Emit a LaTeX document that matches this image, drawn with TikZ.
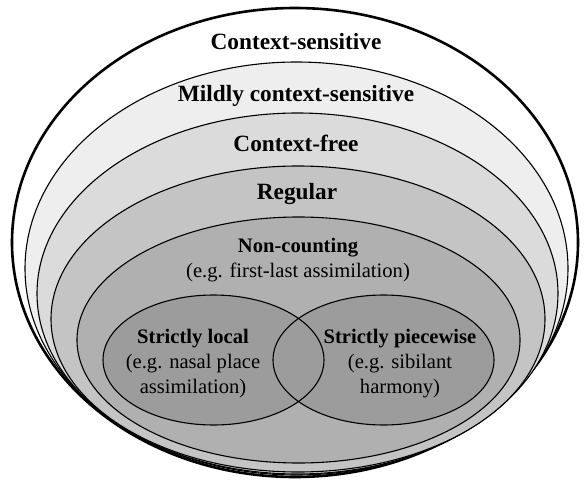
\documentclass[tikz,border=0pt]{standalone}
\usepackage{fontspec}
\setmainfont{Liberation Serif}
\begin{document}
\begin{tikzpicture}[x=1pt,y=-1pt,
  ring/.style={draw=black,line width=1.1pt},
  head/.style={font=\fontsize{23.3}{28}\selectfont\bfseries,anchor=base,inner sep=0pt},
  sub/.style={font=\fontsize{20.6}{25}\selectfont,anchor=base,inner sep=0pt,align=center},
  subb/.style={font=\fontsize{20.6}{25}\selectfont\bfseries,anchor=base,inner sep=0pt}]
\useasboundingbox (0,0) rectangle (587,482);
\definecolor{cMild}{gray}{0.935}
\definecolor{cCF}{gray}{0.86}
\definecolor{cReg}{gray}{0.77}
\definecolor{cNC}{gray}{0.69}
\definecolor{cSL}{gray}{0.61}
% nested classes
\path[fill=white,draw=black,line width=2.6pt] (295,242.5) ellipse [x radius=283, y radius=234.5];
\path[ring,fill=cMild] (296.5,268.5) ellipse [x radius=271.5, y radius=206.5];
\path[ring,fill=cCF] (297.5,293.5) ellipse [x radius=260.5, y radius=180.5];
\path[ring,fill=cReg] (298,319) ellipse [x radius=247, y radius=153];
\path[ring,fill=cNC] (298.5,340) ellipse [x radius=221.5, y radius=123];
% strictly local / piecewise
\path[fill=cSL] (213.5,360) ellipse [x radius=110.5, y radius=65];
\path[fill=cSL] (383.5,360) ellipse [x radius=110.5, y radius=65];
\path[ring] (213.5,360) ellipse [x radius=110.5, y radius=65];
\path[ring] (383.5,360) ellipse [x radius=110.5, y radius=65];
% labels
\node[head] (cs) at (296,49) {Context-sensitive};
\node[head] (mcs) at (296,101) {Mildly context-sensitive};
\node[head] (cf) at (296,151) {Context-free};
\node[head] (reg) at (297,199) {Regular};
\node[subb] (nc) at (298,252) {Non-counting};
\node[sub] (nce) at (298,277) {(e.g. first-last assimilation)};
\node[subb] (sl) at (193,343) {Strictly local};
\node[sub] (sle1) at (193,368) {(e.g. nasal place};
\node[sub] (sle2) at (193,393) {assimilation)};
\node[subb] (sp) at (400,343) {Strictly piecewise};
\node[sub] (spe1) at (400,368) {(e.g. sibilant};
\node[sub] (spe2) at (400,393) {harmony)};
\end{tikzpicture}
\end{document}
